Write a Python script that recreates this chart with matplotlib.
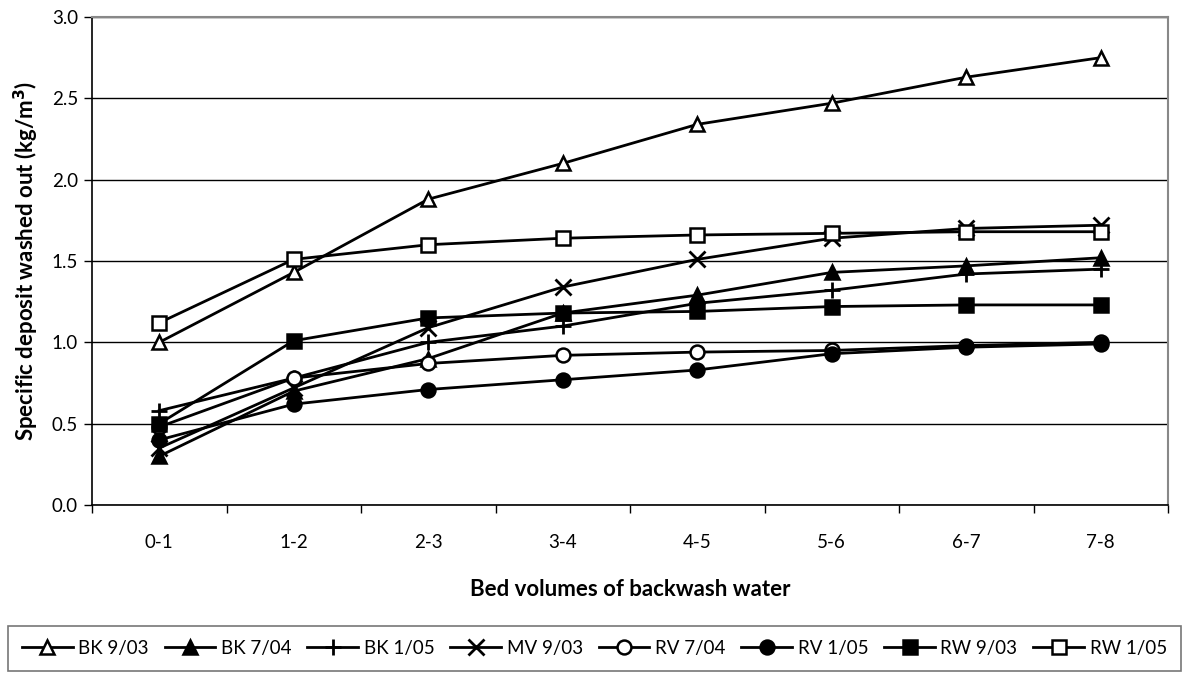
import matplotlib
matplotlib.use("Agg")
import matplotlib.pyplot as plt
import numpy as np

plt.rcParams['font.family'] = ['Lato', 'DejaVu Sans']

categories = ["0-1", "1-2", "2-3", "3-4", "4-5", "5-6", "6-7", "7-8"]
bk_9_03 = [1.00, 1.43, 1.88, 2.10, 2.34, 2.47, 2.63, 2.75]
bk_7_04 = [0.30, 0.70, 0.90, 1.18, 1.29, 1.43, 1.47, 1.52]
bk_1_05 = [0.58, 0.78, 1.00, 1.10, 1.24, 1.32, 1.42, 1.45]
mv_9_03 = [0.35, 0.72, 1.09, 1.34, 1.51, 1.64, 1.70, 1.72]
rv_7_04 = [0.48, 0.78, 0.87, 0.92, 0.94, 0.95, 0.98, 1.00]
rv_1_05 = [0.40, 0.62, 0.71, 0.77, 0.83, 0.93, 0.97, 0.99]
rw_9_03 = [0.50, 1.01, 1.15, 1.18, 1.19, 1.22, 1.23, 1.23]
rw_1_05 = [1.12, 1.51, 1.60, 1.64, 1.66, 1.67, 1.68, 1.68]

series = [
    ("BK 9/03", bk_9_03, '^', 'white'),
    ("BK 7/04", bk_7_04, '^', 'black'),
    ("BK 1/05", bk_1_05, '+', 'black'),
    ("MV 9/03", mv_9_03, 'x', 'black'),
    ("RV 7/04", rv_7_04, 'o', 'white'),
    ("RV 1/05", rv_1_05, 'o', 'black'),
    ("RW 9/03", rw_9_03, 's', 'black'),
    ("RW 1/05", rw_1_05, 's', 'white'),
]

fig = plt.figure(figsize=(11.84, 6.73), dpi=100)
ax = fig.add_axes([92/1184, 1-505/673, (1168-92)/1184, (505-17)/673])

x = np.arange(len(categories))
for name, vals, mk, fc in series:
    ms = 10
    mew = 1.8
    if mk in ('+', 'x'):
        ms = 11
        mew = 2.0
    ax.plot(x, vals, color='black', linewidth=2.0, marker=mk, markersize=ms,
            markerfacecolor=fc, markeredgecolor='black', markeredgewidth=mew,
            label=name, clip_on=False)

ax.set_xlim(-0.5, len(categories) - 0.5)
ax.set_ylim(0, 3.0)
ax.set_yticks(np.arange(0, 3.01, 0.5))
ax.set_yticklabels([f"{v:.1f}" for v in np.arange(0, 3.01, 0.5)])
ax.set_xticks(x)
ax.set_xticklabels(categories)
ax.set_xticks(np.arange(-0.5, len(categories), 1.0), minor=True)
ax.tick_params(axis='x', which='major', length=0, pad=21, labelsize=13.5)
ax.tick_params(axis='x', which='minor', length=6, width=1, direction='out')
ax.tick_params(axis='y', length=6, width=1, direction='out', labelsize=13.5, pad=4)
ax.yaxis.grid(True, color='black', linewidth=1.0)
ax.set_axisbelow(True)

for s in ('top', 'right'):
    ax.spines[s].set_color('#888888')
    ax.spines[s].set_linewidth(1.5)
ax.spines['left'].set_color('black')
ax.spines['bottom'].set_color('black')
ax.spines['left'].set_linewidth(1.2)
ax.spines['bottom'].set_linewidth(1.2)

ax.set_ylabel("Specific deposit washed out (kg/m$^\\mathbf{3}$)", fontsize=16,
              fontweight='bold', labelpad=8)
ax.set_xlabel("Bed volumes of backwash water", fontsize=16, fontweight='bold',
              labelpad=20)

handles, labels = ax.get_legend_handles_labels()
leg = fig.legend(handles, labels, loc='lower left', ncol=8, mode='expand',
                 bbox_to_anchor=(8/1184, 2/673, 1173/1184, 46/673),
                 frameon=True, fancybox=False, fontsize=13.5,
                 handlelength=2.7, handletextpad=0.3, borderaxespad=0,
                 borderpad=0.75, columnspacing=0.8)
leg.get_frame().set_edgecolor('#555555')
leg.get_frame().set_linewidth(1.2)

fig.savefig("out.png", dpi=100)
